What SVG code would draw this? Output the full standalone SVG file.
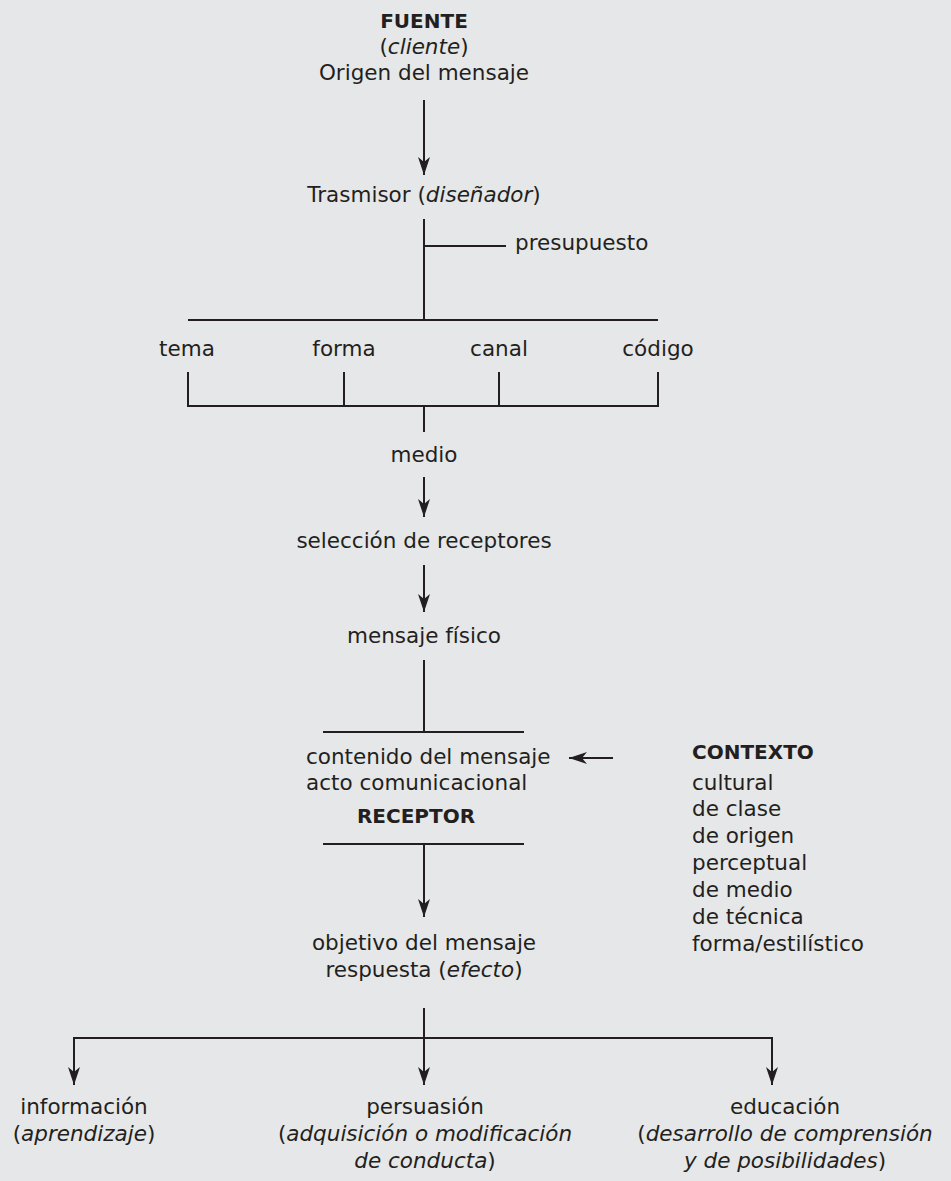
<svg xmlns="http://www.w3.org/2000/svg" width="951" height="1181" viewBox="0 0 951 1181">
<style>
text{font-family:"DejaVu Sans","Noto Sans",sans-serif;font-size:21.5px;fill:#231f20}
.c{text-anchor:middle}
.b{font-weight:bold;font-size:20px}
.i{font-style:italic}
.ln{stroke:#231f20;stroke-width:2;fill:none}
</style>
<defs>
<marker id="ah" viewBox="0 0 18 12" refX="18" refY="6" markerWidth="18" markerHeight="12" markerUnits="userSpaceOnUse" orient="auto">
<path d="M0,0 L18,6 L0,12 L5,6 z" fill="#231f20"/>
</marker>
</defs>
<rect width="951" height="1181" fill="#e6e7e8"/>
<g id="connectors">
<line class="ln" x1="424" y1="100" x2="424" y2="175" marker-end="url(#ah)"/>
<polyline class="ln" points="424,219 424,320"/>
<line class="ln" x1="424" y1="246" x2="506" y2="246"/>
<line class="ln" x1="188" y1="320" x2="658" y2="320"/>
<polyline class="ln" points="188,372 188,406 658,406 658,372"/>
<line class="ln" x1="344" y1="372" x2="344" y2="406"/>
<line class="ln" x1="499" y1="372" x2="499" y2="406"/>
<line class="ln" x1="424" y1="406" x2="424" y2="432"/>
<line class="ln" x1="424" y1="477" x2="424" y2="517" marker-end="url(#ah)"/>
<line class="ln" x1="424" y1="565" x2="424" y2="612" marker-end="url(#ah)"/>
<line class="ln" x1="424" y1="660" x2="424" y2="732"/>
<line class="ln" x1="323" y1="732" x2="524" y2="732"/>
<line class="ln" x1="323" y1="844" x2="524" y2="844"/>
<line class="ln" x1="424" y1="844" x2="424" y2="917" marker-end="url(#ah)"/>
<line class="ln" x1="613" y1="758" x2="569" y2="758" marker-end="url(#ah)"/>
<line class="ln" x1="424" y1="1008" x2="424" y2="1085" marker-end="url(#ah)"/>
<polyline class="ln" points="74,1038 772,1038"/>
<line class="ln" x1="74" y1="1037" x2="74" y2="1085" marker-end="url(#ah)"/>
<line class="ln" x1="772" y1="1037" x2="772" y2="1085" marker-end="url(#ah)"/>
</g>
<g id="fuente">
<text class="c b" x="424" y="28">FUENTE</text>
<text class="c" x="424" y="54">(<tspan class="i">cliente</tspan>)</text>
<text class="c" x="424" y="80">Origen del mensaje</text>
</g>
<g id="trasmisor"><text class="c" x="424" y="202">Trasmisor (<tspan class="i">diseñador</tspan>)</text></g>
<g id="presupuesto"><text x="515" y="250">presupuesto</text></g>
<g id="tema"><text class="c" x="187" y="356">tema</text></g>
<g id="forma"><text class="c" x="344" y="356">forma</text></g>
<g id="canal"><text class="c" x="499" y="356">canal</text></g>
<g id="codigo"><text class="c" x="658" y="356">código</text></g>
<g id="medio"><text class="c" x="424" y="462">medio</text></g>
<g id="seleccion"><text class="c" x="424" y="548">selección de receptores</text></g>
<g id="mensaje-fisico"><text class="c" x="424" y="643">mensaje físico</text></g>
<g id="receptor">
<text x="306" y="764">contenido del mensaje</text>
<text x="306" y="790">acto comunicacional</text>
<text class="c b" x="416" y="823">RECEPTOR</text>
</g>
<g id="contexto">
<text class="b" x="692" y="759">CONTEXTO</text>
<text x="692" y="790">cultural</text>
<text x="692" y="816">de clase</text>
<text x="692" y="843">de origen</text>
<text x="692" y="870">perceptual</text>
<text x="692" y="897">de medio</text>
<text x="692" y="924">de técnica</text>
<text x="692" y="951">forma/estilístico</text>
</g>
<g id="objetivo">
<text class="c" x="424" y="950">objetivo del mensaje</text>
<text class="c" x="424" y="977">respuesta (<tspan class="i">efecto</tspan>)</text>
</g>
<g id="informacion">
<text class="c" x="84" y="1114">información</text>
<text class="c" x="84" y="1141">(<tspan class="i">aprendizaje</tspan>)</text>
</g>
<g id="persuasion">
<text class="c" x="425" y="1114">persuasión</text>
<text class="c" x="425" y="1141">(<tspan class="i">adquisición o modificación</tspan></text>
<text class="c" x="425" y="1168"><tspan class="i">de conducta</tspan>)</text>
</g>
<g id="educacion">
<text class="c" x="785" y="1114">educación</text>
<text class="c" x="785" y="1141">(<tspan class="i">desarrollo de comprensión</tspan></text>
<text class="c" x="785" y="1168"><tspan class="i">y de posibilidades</tspan>)</text>
</g>
</svg>
